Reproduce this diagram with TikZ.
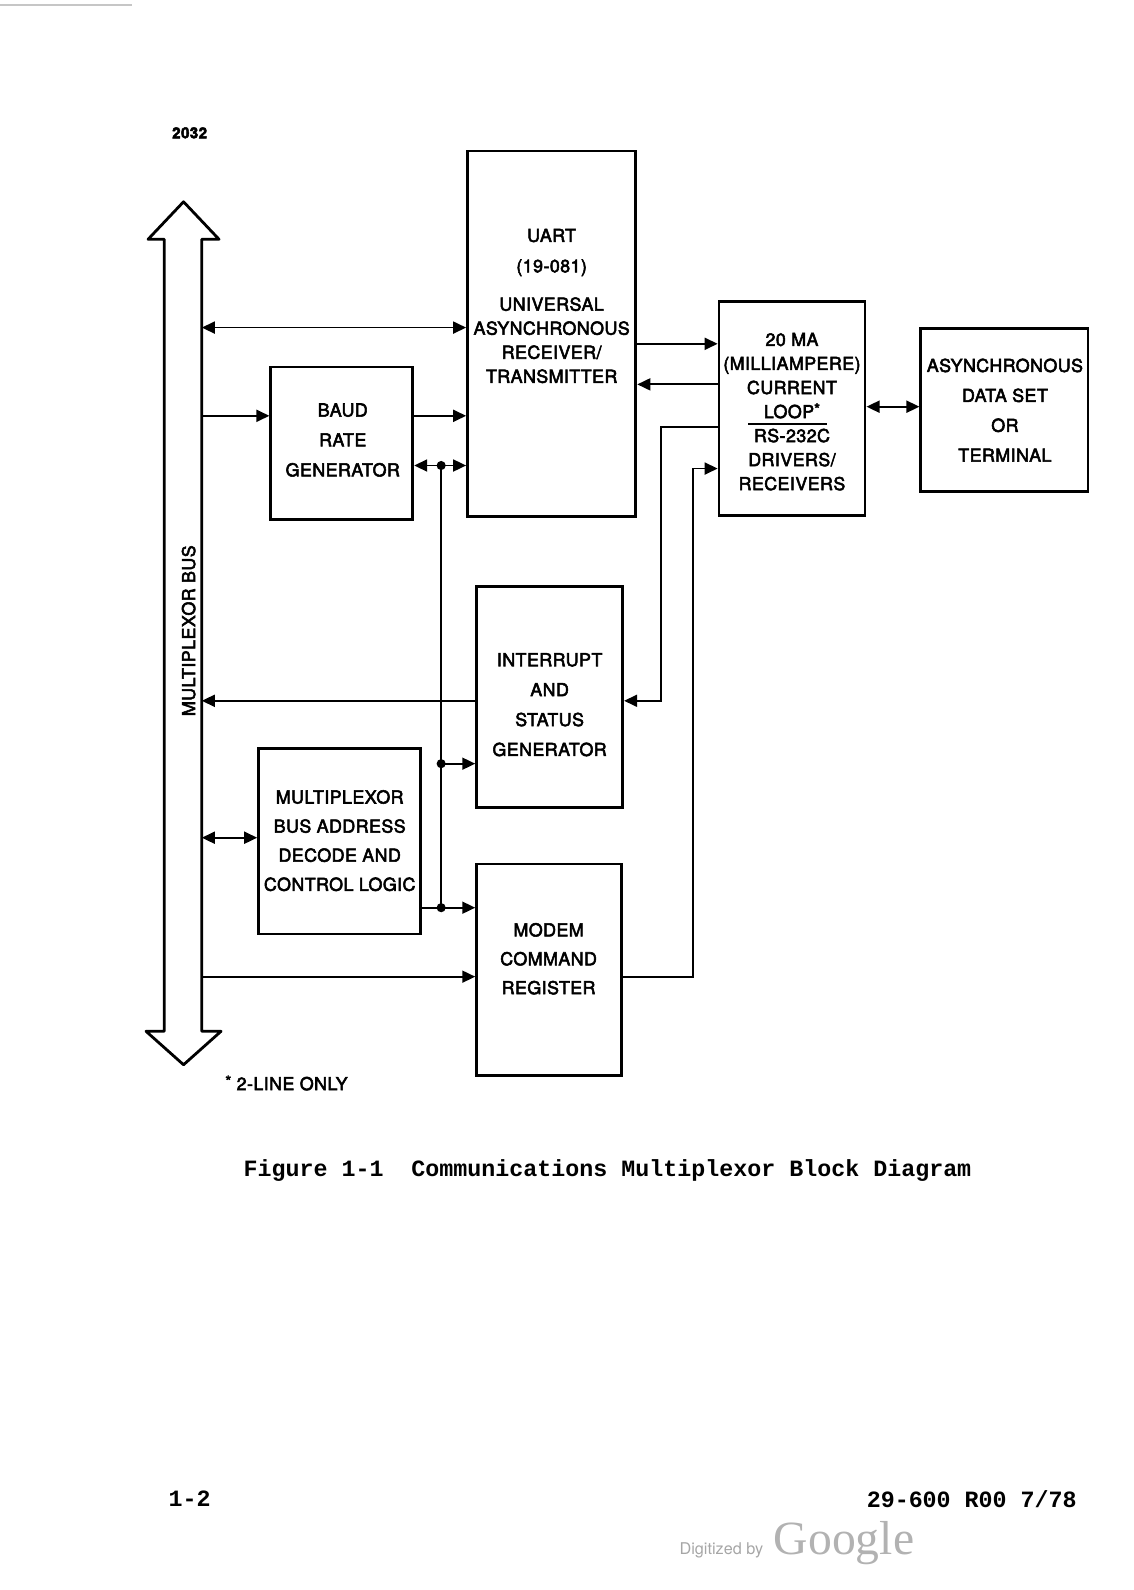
\documentclass[tikz,border=0pt]{standalone}
\usepackage{fontspec}
\setmainfont{TeX Gyre Heros}[FakeBold=3,LetterSpace=2.5]
\newfontfamily\typew{Liberation Mono}
\newfontfamily\plainsans{TeX Gyre Heros}
\newfontfamily\gserif{Liberation Serif}
\usepackage{tikz}
\usetikzlibrary{arrows.meta}
\tikzset{
blk/.style={
  draw,
  line width=2.8pt,
  rectangle,
  inner sep=0pt
},
lbl/.style={
  font=\fontsize{17.6}{29.5}\selectfont,
  align=center,
  inner sep=0pt
},
lbltight/.style={
  font=\fontsize{17.6}{23.7}\selectfont,
  align=center,
  inner sep=0pt
},
typed/.style={
  font=\typew\bfseries\fontsize{23}{23}\selectfont,
  inner sep=0pt
},
wire/.style={line width=1.8pt},
busline/.style={line width=2.8pt,line join=round},
>={Triangle[length=13pt,width=12pt]},
}
\newcommand{\starmark}{\raisebox{3.5pt}{\fontsize{15}{15}\selectfont *}}

\begin{document}
\begin{tikzpicture}[x=1pt,y=-1pt,scale=1.014,transform shape]
\useasboundingbox (0,0) rectangle (1117.4,1568.0);
% scan edge
\draw[gray!45,line width=1.5pt] (0,5) -- (130,5);
\node[font=\bfseries\fontsize{15}{15}\selectfont] (fignum) at (187,131) {2032};
% the bus
\draw[busline] (181,199) -- (216,236) -- (199,236) -- (199,1017) -- (218,1017)
  -- (181,1050) -- (144,1017) -- (162,1017) -- (162,236) -- (146,236) -- cycle;
\node[lbl,rotate=90] (buslbl) at (186,622) {MULTIPLEXOR BUS};
% the boxes
\node[blk,minimum width=166pt,minimum height=360pt] (uart) at (544,329) {};
\node[blk,minimum width=140pt,minimum height=150pt] (baud) at (337,437) {};
\node[blk,minimum width=144pt,minimum height=211pt] (loop) at (781,402.5) {};
\node[blk,minimum width=165pt,minimum height=161pt] (term) at (990.5,404.5) {};
\node[blk,minimum width=144pt,minimum height=218pt] (intr) at (542,687) {};
\node[blk,minimum width=160pt,minimum height=183pt] (mux) at (335,829.5) {};
\node[blk,minimum width=143pt,minimum height=209pt] (modem) at (541.5,956.5) {};
% the box texts
\node[lbl,font=\fontsize{17.6}{30}\selectfont] (uarttitle) at (544,249) {UART\\(19-081)};
\node[lbltight] (uarttxt) at (544,335.5) {UNIVERSAL\\ASYNCHRONOUS\\RECEIVER/\\TRANSMITTER};
\node[lbl] (baudtxt) at (338,434) {BAUD\\RATE\\GENERATOR};
\node[lbltight] (looptxt) at (781,406) {20 MA\\(MILLIAMPERE)\\CURRENT\\LOOP\starmark\\RS-232C\\DRIVERS/\\RECEIVERS};
\draw[line width=1.5pt] (738,418) -- (816,418);
\node[lbl] (termtxt) at (991,404.5) {ASYNCHRONOUS\\DATA SET\\OR\\TERMINAL};
\node[lbl] (intrtxt) at (542,695) {INTERRUPT\\AND\\STATUS\\GENERATOR};
\node[lbl,font=\fontsize{17.6}{28.7}\selectfont] (muxtxt) at (335,829) {MULTIPLEXOR\\BUS ADDRESS\\DECODE AND\\CONTROL LOGIC};
\node[lbl,font=\fontsize{17.6}{28.5}\selectfont] (modemtxt) at (541,945.5) {MODEM\\COMMAND\\REGISTER};
% taps on the bus and levels
\coordinate (busA) at (199,323);
\coordinate (busB) at (199,410);
\coordinate (busC) at (199,691);
\coordinate (busD) at (199,826);
\coordinate (busE) at (199,963);
\coordinate (clk) at (435,459);
\coordinate (j1) at (435,753);
\coordinate (j2) at (435,895);
\coordinate (ytx) at (0,339);
\coordinate (yrx) at (0,379);
\coordinate (yint) at (0,421);
\coordinate (yterm) at (0,401);
\coordinate (cx1) at (652,691);
\coordinate (cx2) at (683,462);
% the arrows
\draw[wire,<->] (busA) -- (busA -| uart.west);
\draw[wire,->] (busB) -- (busB -| baud.west);
\draw[wire,->] (baud.east |- busB) -- (uart.west |- busB);
\draw[wire,<->] (baud.east |- clk) -- (uart.west |- clk);
\draw[wire] (clk) -- (j2);
\draw[wire,->] (j1) -- (j1 -| intr.west);
\draw[wire,->] (mux.east |- j2) -- (j2 -| modem.west);
\draw[wire,<-] (busC) -- (busC -| intr.west);
\draw[wire,<->] (busD) -- (busD -| mux.west);
\draw[wire,->] (busE) -- (busE -| modem.west);
\draw[wire,->] (uart.east |- ytx) -- (loop.west |- ytx);
\draw[wire,<-] (uart.east |- yrx) -- (loop.west |- yrx);
\draw[wire,->] (loop.west |- yint) -| (cx1) -- (cx1 -| intr.east);
\draw[wire,->] (modem.east |- busE) -| (cx2) -- (cx2 -| loop.west);
\draw[wire,<->] (loop.east |- yterm) -- (term.west |- yterm);
\foreach \p in {clk,j1,j2}
  \fill (\p) circle (4.5pt);
% notes
\node[lbl,anchor=west] (note) at (222,1068) {\starmark\ 2-LINE ONLY};
\node[typed,anchor=west] (caption) at (240,1154) {Figure 1-1\ \ Communications Multiplexor Block Diagram};
\node[typed,anchor=west] (pageno) at (166,1478) {1-2};
\node[typed,anchor=east] (docno) at (1062,1478) {29-600 R00 7/78};
\node[font=\plainsans\fontsize{16}{16}\selectfont,text=gray!70,anchor=base west,inner sep=0pt] (digi) at (670,1533) {Digitized by};
\node[font=\gserif\fontsize{47}{47}\selectfont,text=gray!60,anchor=base west,inner sep=0pt] (goog) at (763,1533) {Google};
\end{tikzpicture}
\end{document}
